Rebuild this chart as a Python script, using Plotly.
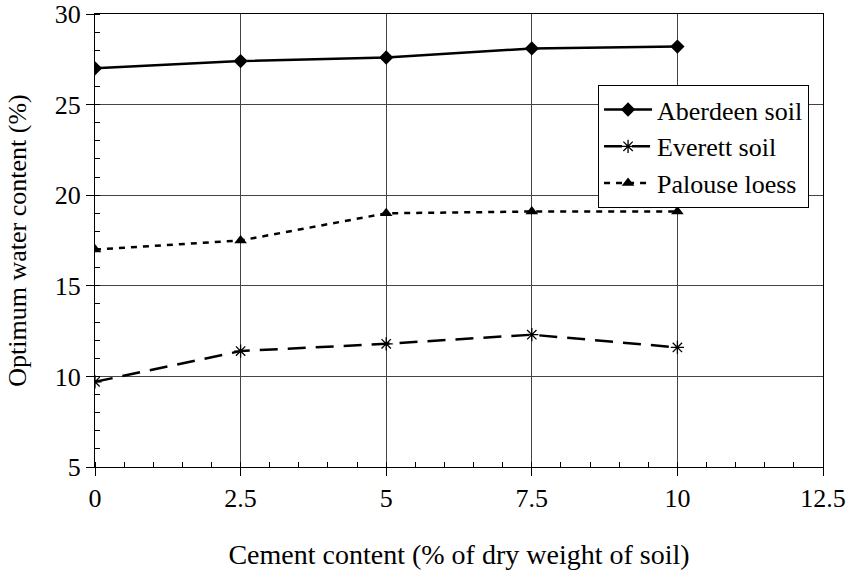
import plotly.graph_objects as go

cement = [0, 2.5, 5, 7.5, 10]
aberdeen = [27.0, 27.4, 27.6, 28.1, 28.2]
everett = [9.7, 11.4, 11.8, 12.3, 11.6]
palouse = [17.0, 17.5, 19.0, 19.1, 19.1]

FONT = "Liberation Serif, Times New Roman, serif"
FS = 26

fig = go.Figure()
fig.add_trace(go.Scatter(x=cement, y=aberdeen, name="Aberdeen soil", mode="lines+markers",
                         line=dict(color="black", width=2.5),
                         marker=dict(symbol="diamond", size=11, color="black")))
fig.add_trace(go.Scatter(x=cement, y=everett, name="Everett soil", mode="lines+markers",
                         line=dict(color="black", width=2.5, dash="18px,10px"),
                         marker=dict(symbol="asterisk-open", size=11, color="black",
                                     line=dict(color="black", width=1.3))))
fig.add_trace(go.Scatter(x=cement, y=palouse, name="Palouse loess", mode="lines+markers",
                         line=dict(color="black", width=2.5, dash="6px,6px"),
                         marker=dict(symbol="triangle-up", size=11, color="black")))

fig.update_layout(
    template="none",
    width=850, height=577,
    margin=dict(l=95, r=27, t=14, b=110),
    paper_bgcolor="white", plot_bgcolor="white",
    font=dict(family=FONT, size=FS, color="black"),
    showlegend=True,
    legend=dict(x=0.691, xanchor="left", y=0.843, yanchor="top",
                bgcolor="white", bordercolor="black", borderwidth=1,
                font=dict(family=FONT, size=FS), itemwidth=48, tracegroupgap=0),
    xaxis=dict(range=[0, 12.5], tickmode="linear", tick0=0, dtick=2.5,
               showgrid=True, gridcolor="#444", gridwidth=1,
               showline=True, linecolor="black", linewidth=1, mirror=True,
               ticks="outside", ticklen=8, tickcolor="black", tickwidth=1,
               automargin=False, ticklabeloverflow="allow",
               minor=dict(tickmode="linear", dtick=0.5, tick0=0, ticks="inside", ticklen=5,
                          tickcolor="black", tickwidth=1, showgrid=False),
               zeroline=False,
               title=dict(text="Cement content (% of dry weight of soil)",
                          font=dict(family=FONT, size=28), standoff=32)),
    yaxis=dict(range=[5, 30], tickmode="linear", tick0=5, dtick=5,
               showgrid=True, gridcolor="#444", gridwidth=1,
               showline=True, linecolor="black", linewidth=1, mirror=True,
               ticks="outside", ticklen=8, tickcolor="black", tickwidth=1,
               automargin=False, ticklabeloverflow="allow",
               minor=dict(tickmode="linear", dtick=1, tick0=5, ticks="inside", ticklen=5,
                          tickcolor="black", tickwidth=1, showgrid=False),
               zeroline=False,
               title=dict(text="Optimum water content (%)",
                          font=dict(family=FONT, size=FS), standoff=20)),
)

fig.write_html("out.html", config={"displayModeBar": False},
               post_script="document.body.style.margin='0';")
